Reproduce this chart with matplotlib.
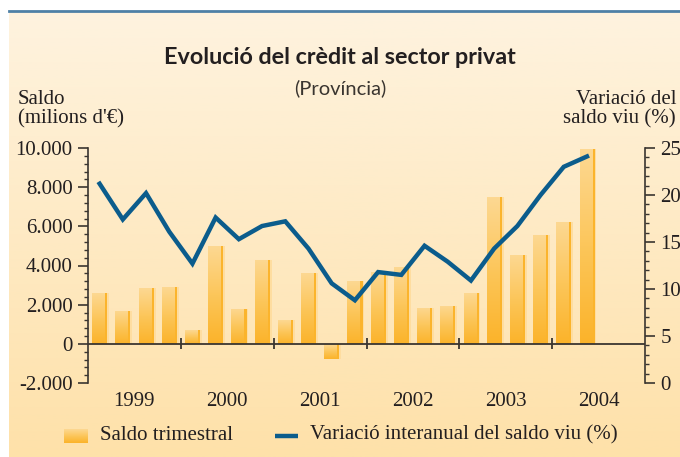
import numpy as np
import matplotlib
matplotlib.use("Agg")
import matplotlib.pyplot as plt
from matplotlib.colors import LinearSegmentedColormap
from matplotlib.lines import Line2D
from matplotlib.ticker import MultipleLocator, FuncFormatter

# Data (quarterly, 1999 Q1 - 2004 Q2)
years = ['1999', '2000', '2001', '2002', '2003', '2004']
saldo = [2600, 1700, 2850, 2900,
         700, 5000, 1800, 4300,
         1200, 3600, -750, 3200,
         3650, 3900, 1850, 1950,
         2600, 7500, 4550, 5550,
         6200, 9950]
variacio = [21.2, 17.4, 20.2, 16.1,
            12.7, 17.6, 15.3, 16.7,
            17.2, 14.3, 10.6, 8.8,
            11.8, 11.5, 14.6, 12.9,
            10.9, 14.3, 16.7, 20.0,
            23.0, 24.1]

serif = ['Liberation Serif', 'DejaVu Serif']
line_blue = '#0B5C8C'
bar_cmap = LinearSegmentedColormap.from_list('bar', ['#FDD892', '#FCC65A', '#FBB32A'])
bg_cmap = LinearSegmentedColormap.from_list('bg', ['#FEF3DF', '#FEE1A9'])

fig = plt.figure(figsize=(6.8, 4.57), dpi=100)
fig.patch.set_facecolor('white')

# background panel with vertical gradient
bg = fig.add_axes([9 / 680, 0, 1 - 9 / 680, 1 - 12 / 457])
bg.imshow(np.linspace(0, 1, 256).reshape(-1, 1), cmap=bg_cmap, aspect='auto',
          extent=(0, 1, 0, 1))
bg.set_axis_off()
fig.add_artist(Line2D([9 / 680, 1], [1 - 11 / 457, 1 - 11 / 457], color='#4E80A6', lw=2))

ax = fig.add_axes([88 / 680, 1 - 383 / 457, 557 / 680, 235 / 457])
ax.set_facecolor('none')
ax.set_zorder(2)

n = len(saldo)
x = np.arange(n) + 0.5

# bars: gradient body, orange right strip, pale edge
body = ax.bar(x - 0.32, saldo, width=0.52, align='edge', color='#FCC65A', lw=0, zorder=2)
ax.bar(x + 0.2, saldo, width=0.13, align='edge', color='#FBB42C', lw=0, zorder=2)
ax.bar(x + 0.33, saldo, width=0.08, align='edge', color='#FEDDA0', lw=0, zorder=1)
grad = np.linspace(0, 1, 128).reshape(-1, 1)
for b in body:
    x0, y0 = b.get_x(), b.get_y()
    h = b.get_height()
    im = ax.imshow(grad, cmap=bar_cmap, aspect='auto', zorder=2.5,
                   extent=(x0, x0 + b.get_width(), min(y0, y0 + h), max(y0, y0 + h)))
    im.set_clip_path(b)
ax.set_xlim(0, 4 * len(years))
ax.set_ylim(-2000, 10000)

axis_col = '#3A3530'
ax.axhline(0, color=axis_col, lw=1.3, zorder=3)
bounds = np.arange(4, 4 * len(years), 4)
ax.vlines(bounds, -280, 280, color=axis_col, lw=1.3, zorder=3)

for s in ['top', 'bottom', 'right']:
    ax.spines[s].set_visible(False)
ax.spines['left'].set_color(axis_col)
ax.spines['left'].set_linewidth(1.2)
ax.set_xticks([])
ax.yaxis.set_major_locator(MultipleLocator(2000))
ax.yaxis.set_minor_locator(MultipleLocator(400))
ax.yaxis.set_major_formatter(FuncFormatter(lambda v, p: f'{int(v):,}'.replace(',', '.')))
ax.tick_params(axis='y', which='major', length=7, width=1.2, color=axis_col,
               labelsize=15, pad=4, labelcolor='#231F20')
ax.tick_params(axis='y', which='minor', length=3, width=1, color=axis_col)
for t in ax.get_yticklabels():
    t.set_family(serif)

for i, yr in enumerate(years):
    ax.text(4 * i + 2, -2450, yr, ha='center', va='top', fontsize=15,
            family=serif, color='#231F20')

# right axis: line
ax2 = ax.twinx()
ax2.set_zorder(3)
ax2.set_ylim(0, 25)
ax2.plot(x, variacio, color=line_blue, lw=3.2, solid_joinstyle='miter', zorder=4)
for s in ['top', 'bottom', 'left']:
    ax2.spines[s].set_visible(False)
ax2.spines['right'].set_color(axis_col)
ax2.spines['right'].set_linewidth(1.2)
ax2.yaxis.set_major_locator(MultipleLocator(5))
ax2.yaxis.set_minor_locator(MultipleLocator(1))
ax2.tick_params(axis='y', which='major', length=7, width=1.2, color=axis_col,
                labelsize=15, pad=4, labelcolor='#231F20')
ax2.tick_params(axis='y', which='minor', length=3, width=1, color=axis_col)
for t in ax2.get_yticklabels():
    t.set_family(serif)

# titles
fig.text(0.5, 1 - 58 / 457, 'Evolució del crèdit al sector privat', ha='center', va='center',
         fontsize=16.8, fontweight='bold', family=['Lato', 'DejaVu Sans'], color='#231F20')
fig.text(0.5, 1 - 88 / 457, '(Província)', ha='center', va='center',
         fontsize=14.5, fontweight='normal', family=['Lato', 'DejaVu Sans'], color='#3A3530')
fig.text(18 / 680, 1 - 100 / 457, 'Saldo', ha='left', va='center', fontsize=15,
         family=serif, color='#231F20')
fig.text(18 / 680, 1 - 119 / 457, "(milions d'€)", ha='left', va='center', fontsize=15,
         family=serif, color='#231F20')
fig.text(676 / 680, 1 - 100 / 457, 'Variació del', ha='right', va='center', fontsize=15,
         family=serif, color='#231F20')
fig.text(676 / 680, 1 - 119 / 457, 'saldo viu (%)', ha='right', va='center', fontsize=15,
         family=serif, color='#231F20')

# legend
leg = fig.add_axes([0, 0, 1, 1], zorder=5)
leg.set_axis_off()
leg.imshow(np.linspace(0, 1, 64).reshape(-1, 1), cmap=bar_cmap, aspect='auto',
           extent=(64, 88, 443, 429))
leg.text(100, 435, 'Saldo trimestral', ha='left', va='center', fontsize=15,
         family=serif, color='#231F20')
leg.plot([275, 298], [436, 436], color=line_blue, lw=3.2, solid_capstyle='butt')
leg.text(310, 435, 'Variació interanual del saldo viu (%)', ha='left', va='center',
         fontsize=15, family=serif, color='#231F20')
leg.set_xlim(0, 680)
leg.set_ylim(457, 0)

fig.savefig('out.png', dpi=100)
